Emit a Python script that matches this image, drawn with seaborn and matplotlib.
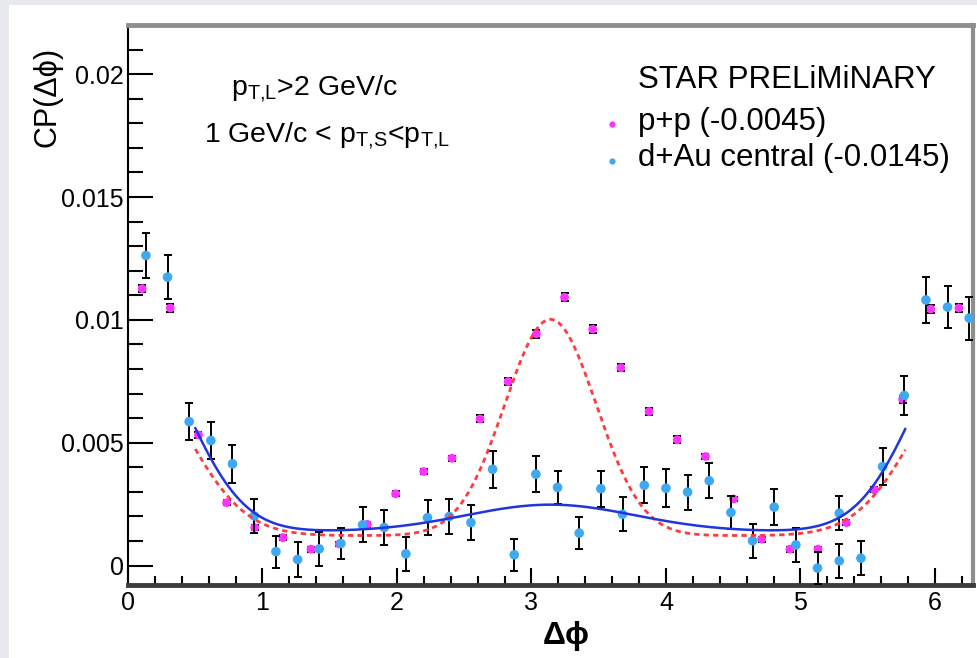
import numpy as np
import matplotlib
matplotlib.use("Agg")
import matplotlib.pyplot as plt
import seaborn as sns
from matplotlib.ticker import MultipleLocator
from matplotlib.patches import Rectangle

# ---- d+Au central: CP(dphi) with statistical errors ----
dau_dphi = [0.133, 0.294, 0.455, 0.616, 0.777, 0.939, 1.100, 1.261, 1.422, 1.583,
            1.744, 1.905, 2.066, 2.227, 2.389, 2.550, 2.711, 2.872, 3.033, 3.194,
            3.355, 3.516, 3.677, 3.839, 4.000, 4.161, 4.322, 4.483, 4.644, 4.805,
            4.966, 5.127, 5.289, 5.289, 5.450, 5.611, 5.772, 5.933, 6.094, 6.255]
dau_cp = [0.01262, 0.01174, 0.00586, 0.00509, 0.00414, 0.00202, 0.00057, 0.00025, 0.00068, 0.00090,
          0.00166, 0.00155, 0.00048, 0.00195, 0.00200, 0.00175, 0.00392, 0.00044, 0.00372, 0.00318,
          0.00132, 0.00313, 0.00209, 0.00327, 0.00315, 0.00299, 0.00345, 0.00216, 0.00101, 0.00238,
          0.00084, -0.00010, 0.00019, 0.00213, 0.00030, 0.00403, 0.00692, 0.01081, 0.01052, 0.01007]
dau_err = [0.00092, 0.00088, 0.00076, 0.00077, 0.00076, 0.00070, 0.00065, 0.00071, 0.00068, 0.00065,
           0.00071, 0.00070, 0.00070, 0.00071, 0.00071, 0.00071, 0.00076, 0.00064, 0.00072, 0.00066,
           0.00065, 0.00073, 0.00070, 0.00073, 0.00077, 0.00071, 0.00071, 0.00066, 0.00069, 0.00073,
           0.00070, 0.00066, 0.00070, 0.00070, 0.00070, 0.00075, 0.00080, 0.00094, 0.00087, 0.00088]

# ---- p+p: CP(dphi) with statistical errors ----
pp_dphi = [0.105, 0.314, 0.524, 0.733, 0.942, 1.152, 1.361, 1.571, 1.780, 1.990,
           2.199, 2.409, 2.618, 2.827, 3.037, 3.246, 3.456, 3.665, 3.875, 4.084,
           4.294, 4.503, 4.712, 4.922, 5.131, 5.341, 5.550, 5.760, 5.969, 6.178]
pp_cp = [0.01127, 0.01048, 0.00532, 0.00256, 0.00155, 0.00114, 0.00067, 0.00088, 0.00168, 0.00292,
         0.00383, 0.00437, 0.00597, 0.00749, 0.00943, 0.01092, 0.00962, 0.00805, 0.00627, 0.00512,
         0.00444, 0.00271, 0.00108, 0.00067, 0.00067, 0.00175, 0.00308, 0.00677, 0.01044, 0.01048]
pp_err = [0.00015, 0.00018, 0.00012, 0.00010, 0.00010, 0.00010, 0.00010, 0.00010, 0.00010, 0.00010,
          0.00010, 0.00010, 0.00014, 0.00014, 0.00016, 0.00016, 0.00016, 0.00015, 0.00015, 0.00014,
          0.00012, 0.00010, 0.00010, 0.00010, 0.00010, 0.00010, 0.00010, 0.00015, 0.00018, 0.00015]

# ---- fit results: pedestal + near-side gaussians (0, 2pi) + away-side gaussian (pi) ----
pp_fit = dict(ped=0.00122, a_near=0.0068, s_near=0.436, a_away=0.0088, s_away=0.34)
dau_fit = dict(ped=0.00138, a_near=0.0083, s_near=0.43, a_away=0.0011, s_away=0.63)
fit_range = (0.5, 5.78)

ytick_vals = [0, 0.005, 0.01, 0.015, 0.02]
ytick_text = ["0", "0.005", "0.01", "0.015", "0.02"]
xtick_vals = [0, 1, 2, 3, 4, 5, 6]

legend_title = "STAR PRELiMiNARY"
pp_label = "p+p (-0.0045)"
dau_label = "d+Au central (-0.0145)"

PP_COLOR = "#ff33ff"
DAU_COLOR = "#3fa8f2"


def fit_curve(x, ped, a_near, s_near, a_away, s_away):
    near = a_near * (np.exp(-x**2 / (2 * s_near**2)) +
                     np.exp(-(x - 2 * np.pi)**2 / (2 * s_near**2)))
    away = a_away * np.exp(-(x - np.pi)**2 / (2 * s_away**2))
    return ped + near + away


sns.set_theme(style="white")
plt.rcParams["font.family"] = ["Liberation Sans", "DejaVu Sans"]
plt.rcParams["mathtext.fontset"] = "custom"
plt.rcParams["mathtext.rm"] = "Liberation Sans"
plt.rcParams["mathtext.it"] = "Liberation Sans:italic"

W, H = 977, 658
fig = plt.figure(figsize=(W / 100, H / 100), dpi=100)
fig.patch.set_facecolor("white")
# light grey page edge
fig.patches.append(Rectangle((0, 0), 9 / W, 1, transform=fig.transFigure,
                             facecolor="#e7e9ec", edgecolor="none", zorder=0))
fig.patches.append(Rectangle((0, 1 - 5 / H), 1, 5 / H, transform=fig.transFigure,
                             facecolor="#e7e9ec", edgecolor="none", zorder=0))

ax = fig.add_axes([128 / W, 1 - 585 / H, (973 - 128) / W, (585 - 25) / H])
ax.set_facecolor("white")

# error bars and markers
ax.errorbar(pp_dphi, pp_cp, yerr=pp_err, fmt="none", ecolor="black",
            elinewidth=1.4, capsize=3.2, capthick=1.4, zorder=2)
sns.scatterplot(x=pp_dphi, y=pp_cp, ax=ax, color=PP_COLOR, s=40,
                edgecolor="none", linewidth=0, zorder=3, legend=False)
ax.errorbar(dau_dphi, dau_cp, yerr=dau_err, fmt="none", ecolor="black",
            elinewidth=1.4, capsize=3.2, capthick=1.4, zorder=4)
sns.scatterplot(x=dau_dphi, y=dau_cp, ax=ax, color=DAU_COLOR, s=48,
                edgecolor="none", linewidth=0, zorder=5, legend=False)

# fit curves
xf = np.linspace(fit_range[0], fit_range[1], 400)
sns.lineplot(x=xf, y=fit_curve(xf, **pp_fit), ax=ax, color="#ff3b3b",
             linewidth=2.0, linestyle=(0, (1.9, 1.5)), zorder=6, legend=False)
sns.lineplot(x=xf, y=fit_curve(xf, **dau_fit), ax=ax, color="#2035dd",
             linewidth=1.8, zorder=7, legend=False)

ax.set_xlim(0, 2 * np.pi)
ax.set_ylim(-0.00079, 0.022)

ax.set_yticks(ytick_vals, labels=ytick_text)
ax.set_xticks(xtick_vals, labels=[str(v) for v in xtick_vals])
ax.yaxis.set_minor_locator(MultipleLocator(0.001))
ax.xaxis.set_minor_locator(MultipleLocator(0.2))
ax.tick_params(axis="y", which="major", direction="in", length=18, width=1.5,
               color="black", labelsize=18, pad=3, left=True, right=False)
ax.tick_params(axis="y", which="minor", direction="in", length=11, width=1.5,
               color="black", left=True, right=False)
ax.tick_params(axis="x", which="major", direction="in", length=12.5, width=1.5,
               color="black", labelsize=18, pad=4, bottom=True, top=False)
ax.tick_params(axis="x", which="minor", direction="in", length=6.5, width=1.5,
               color="black", bottom=True, top=False)
for lbl in ax.get_xticklabels() + ax.get_yticklabels():
    lbl.set_color("black")

ax.spines["left"].set_color("black")
ax.spines["left"].set_linewidth(1.5)
ax.spines["bottom"].set_color("#3c3c3c")
ax.spines["bottom"].set_linewidth(3.5)
ax.spines["top"].set_color("#8e8e8e")
ax.spines["top"].set_linewidth(3.5)
ax.spines["right"].set_color("#8e8e8e")
ax.spines["right"].set_linewidth(3.0)
for s in ax.spines.values():
    s.set_visible(True)

ax.set_xlabel("")
ax.set_ylabel("")

# axis titles
fig.text(47 / W, 1 - 97 / H, "CP(Δϕ)", rotation=90, ha="center", va="center",
         fontsize=22, color="black")
fig.text(566 / W, 1 - 636 / H, "Δϕ", ha="center", va="center",
         fontsize=23, fontweight="bold", color="black")

# kinematic selection
fig.text(314 / W, 1 - 95 / H, r"p$_{\rm T{,}L}$>2 GeV/c", ha="center",
         va="baseline", fontsize=20.5, color="black")
fig.text(327 / W, 1 - 142 / H, r"1 GeV/c < p$_{\rm T{,}S}$<p$_{\rm T{,}L}$",
         ha="center", va="baseline", fontsize=20.5, color="black")

# legend block
fig.text(638 / W, 1 - 80 / H, legend_title, ha="left", va="center",
         fontsize=22.5, color="black")
fig.text(638 / W, 1 - 122 / H, pp_label, ha="left", va="center",
         fontsize=22.5, color="black")
fig.text(638 / W, 1 - 158 / H, dau_label, ha="left", va="center",
         fontsize=22.5, color="black")
ax.plot([612 / W], [1 - 124 / H], "o", color=PP_COLOR, ms=4.5, mec="none",
        transform=fig.transFigure, clip_on=False)
ax.plot([612 / W], [1 - 161 / H], "o", color=DAU_COLOR, ms=4.5, mec="none",
        transform=fig.transFigure, clip_on=False)

fig.savefig("out.png", dpi=100, facecolor=fig.get_facecolor())
